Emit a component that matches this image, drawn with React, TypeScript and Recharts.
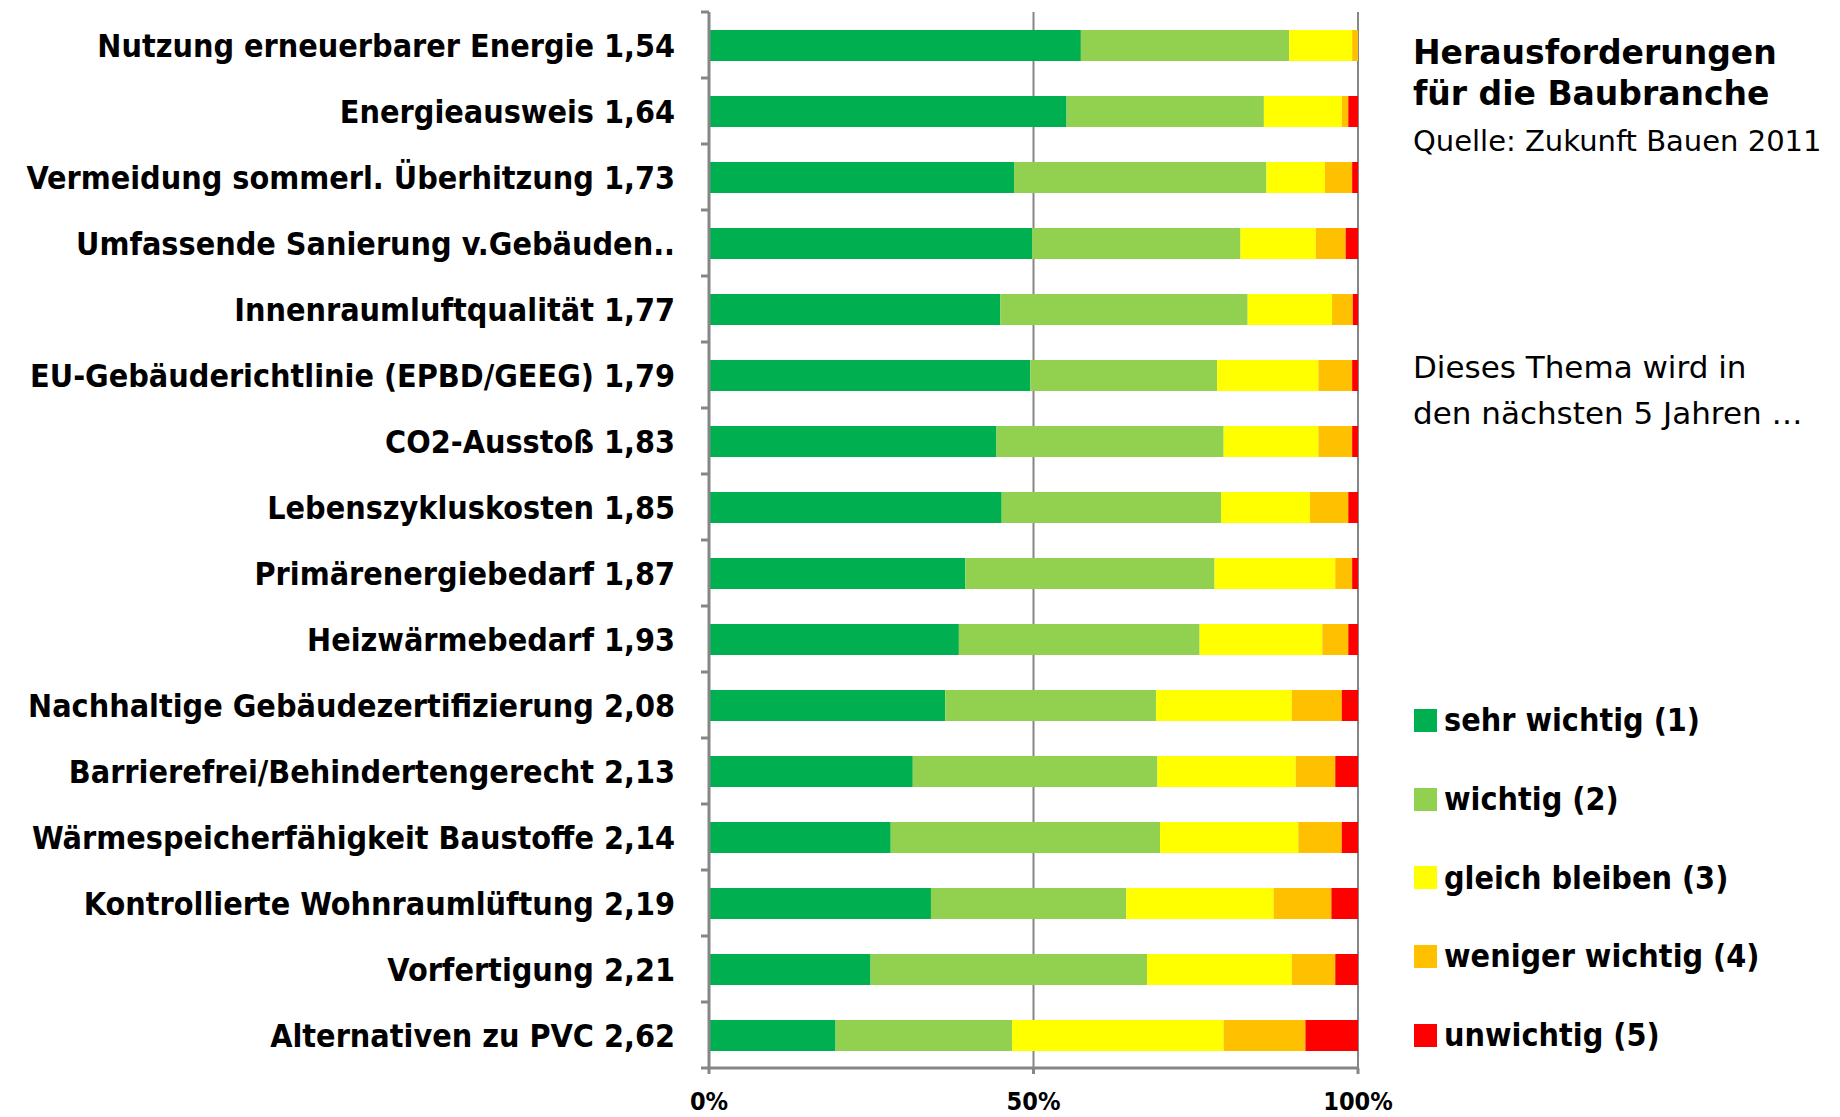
import React from 'react';
import { BarChart, Bar, XAxis, YAxis, CartesianGrid, Legend } from 'recharts';

const labels = [
  'Nutzung erneuerbarer Energie 1,54',
  'Energieausweis 1,64',
  'Vermeidung sommerl. Überhitzung 1,73',
  'Umfassende Sanierung v.Gebäuden..',
  'Innenraumluftqualität 1,77',
  'EU-Gebäuderichtlinie (EPBD/GEEG) 1,79',
  'CO2-Ausstoß 1,83',
  'Lebenszykluskosten 1,85',
  'Primärenergiebedarf 1,87',
  'Heizwärmebedarf 1,93',
  'Nachhaltige Gebäudezertifizierung 2,08',
  'Barrierefrei/Behindertengerecht 2,13',
  'Wärmespeicherfähigkeit Baustoffe 2,14',
  'Kontrollierte Wohnraumlüftung 2,19',
  'Vorfertigung 2,21',
  'Alternativen zu PVC 2,62',
];

const sehrWichtig = [57.3, 55.1, 47.0, 49.8, 44.9, 49.5, 44.3, 45.1, 39.5, 38.5, 36.4, 31.4, 28.0, 34.2, 24.9, 19.5];
const wichtig = [32.1, 30.4, 38.9, 32.1, 38.1, 28.8, 35.0, 33.8, 38.4, 37.1, 32.5, 37.7, 41.5, 30.1, 42.6, 27.2];
const gleichBleiben = [9.7, 12.0, 9.0, 11.6, 13.0, 15.6, 14.6, 13.7, 18.6, 18.9, 20.9, 21.3, 21.3, 22.7, 22.3, 32.6];
const wenigerWichtig = [0.9, 1.0, 4.2, 4.6, 3.2, 5.2, 5.2, 5.9, 2.6, 4.0, 7.7, 6.1, 6.7, 8.9, 6.7, 12.6];
const unwichtig = [0, 1.5, 0.9, 1.9, 0.9, 0.9, 0.9, 1.5, 0.9, 1.5, 2.5, 3.5, 2.5, 4.1, 3.5, 8.1];

const xTicks = [0, 50, 100];

const series = [
  { key: 's1', name: 'sehr wichtig (1)', color: '#00B050', values: sehrWichtig },
  { key: 's2', name: 'wichtig (2)', color: '#92D050', values: wichtig },
  { key: 's3', name: 'gleich bleiben (3)', color: '#FFFF00', values: gleichBleiben },
  { key: 's4', name: 'weniger wichtig (4)', color: '#FFC000', values: wenigerWichtig },
  { key: 's5', name: 'unwichtig (5)', color: '#FF0000', values: unwichtig },
];

const data = labels.map((label, i) => {
  const row: any = { label };
  series.forEach((s) => (row[s.key] = s.values[i]));
  return row;
});

const FONT = "'DejaVu Sans Condensed', 'DejaVu Sans', sans-serif";
const AXIS = '#868686';
const PLOT_TOP = 12;
const PLOT_BOTTOM = 1068;
const BAND = (PLOT_BOTTOM - PLOT_TOP) / labels.length;

// label plus the short boundary tick marks left of the axis
const CategoryTick = (props: any) => {
  const { x, y, payload, index } = props;
  const last = index === labels.length - 1;
  return (
    <g>
      <line x1={x + 26} x2={x + 34} y1={y - BAND / 2} y2={y - BAND / 2} stroke={AXIS} strokeWidth={3} />
      {last && <line x1={x + 26} x2={x + 34} y1={y + BAND / 2} y2={y + BAND / 2} stroke={AXIS} strokeWidth={3} />}
      <text x={x} y={y} dy="0.36em" textAnchor="end" fill="#000" fontFamily={FONT} fontWeight="bold" fontSize={32}>
        {payload.value}
      </text>
    </g>
  );
};

// keep the legend in series order (1) .. (5)
const renderLegend = (props: any) => {
  const { payload } = props;
  const ordered = series
    .map((s) => payload.find((p: any) => p.dataKey === s.key || p.value === s.name))
    .filter(Boolean);
  return (
    <div style={{ fontFamily: FONT, fontWeight: 'bold', fontSize: 32, color: '#000' }}>
      {ordered.map((entry: any, index: number) => (
        <div key={`item-${index}`} style={{ display: 'flex', alignItems: 'center', height: 78.7 }}>
          <div style={{ width: 23, height: 23, background: entry.color, marginRight: 7 }} />
          <span>{entry.value}</span>
        </div>
      ))}
    </div>
  );
};

const sideText = (text: string, top: number, bold: boolean, size: number) => (
  <div
    style={{
      position: 'absolute',
      left: 1413,
      top: top - 20,
      height: 40,
      lineHeight: '40px',
      whiteSpace: 'nowrap',
      fontFamily: "'DejaVu Sans', sans-serif",
      fontWeight: bold ? 'bold' : 'normal',
      fontSize: size,
      color: '#000',
    }}
  >
    {text}
  </div>
);

export default function App() {
  return (
    <div style={{ position: 'absolute', left: 0, top: 0, width: 1840, height: 1117, overflow: 'hidden', background: '#fff' }}>
      <BarChart
        width={1840}
        height={1117}
        data={data}
        layout="vertical"
        margin={{ top: PLOT_TOP, right: 482, left: 0, bottom: 0 }}
      >
        <CartesianGrid horizontal={false} vertical={true} stroke={AXIS} strokeWidth={2} />
        <XAxis
          type="number"
          domain={[0, 100]}
          ticks={xTicks}
          allowDataOverflow
          tickFormatter={(v: number) => `${v}%`}
          height={49}
          tickSize={6}
          tickMargin={18}
          axisLine={{ stroke: AXIS, strokeWidth: 3 }}
          tickLine={{ stroke: AXIS, strokeWidth: 3 }}
          tick={{ fill: '#000', fontFamily: FONT, fontWeight: 'bold', fontSize: 25 }}
        />
        <YAxis
          type="category"
          dataKey="label"
          width={709}
          interval={0}
          tickSize={0}
          tickMargin={34}
          axisLine={{ stroke: AXIS, strokeWidth: 3 }}
          tickLine={false}
          tick={<CategoryTick />}
        />
        <Legend
          layout="vertical"
          align="center"
          verticalAlign="middle"
          content={renderLegend}
          wrapperStyle={{ left: 1414, top: 681, width: 420, height: 400 }}
        />
        {series.map((s) => (
          <Bar key={s.key} dataKey={s.key} name={s.name} stackId="a" fill={s.color} barSize={31} isAnimationActive={false} />
        ))}
      </BarChart>
      {sideText('Herausforderungen', 53, true, 33)}
      {sideText('für die Baubranche', 94, true, 33)}
      {sideText('Quelle: Zukunft Bauen 2011', 141, false, 29)}
      {sideText('Dieses Thema wird in', 367, false, 31)}
      {sideText('den nächsten 5 Jahren …', 413, false, 31)}
    </div>
  );
}
